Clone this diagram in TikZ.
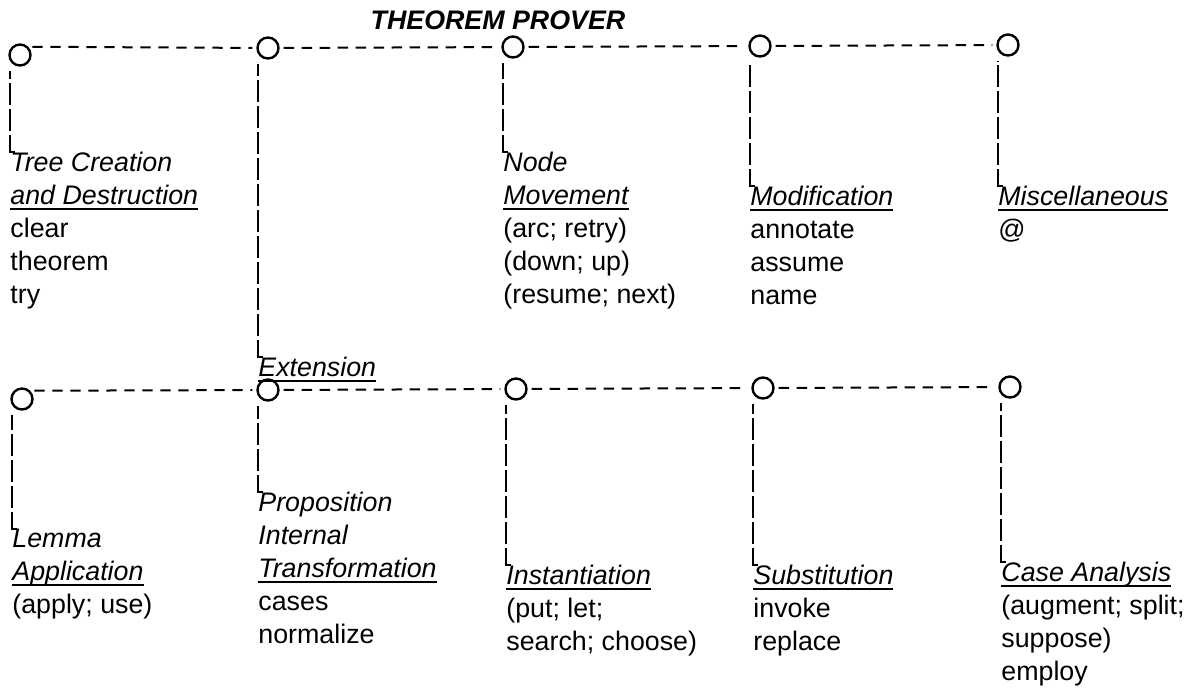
\documentclass[tikz,border=0pt]{standalone}
\usepackage{fontspec}
\setmainfont{Liberation Sans}
\newcommand{\uln}[1]{\setbox0\hbox{#1}\rlap{\rule[-2.5pt]{\wd0}{0.9pt}}\box0}
\tikzset{
  knot/.style={circle,draw,line width=1.2pt,minimum size=10.5pt,inner sep=0pt},
  hlink/.style={line width=1pt,dash pattern=on 5.2pt off 3.8pt,shorten <=2pt,shorten >=2pt},
  vlink/.style={line width=1pt,dash pattern=on 11pt off 2pt,shorten >=2pt},
  topic/.style={anchor=north west,inner sep=0pt,align=left,font=\fontsize{13.4}{16.5}\selectfont}
}

\begin{document}
\begin{tikzpicture}[x=0.5pt,y=-0.5pt]
\useasboundingbox (0,0) rectangle (1198,693);
\node (title) at (498,20) {\fontsize{13.4}{16}\selectfont\bfseries\itshape THEOREM PROVER};
% upper row
\node (t1) [knot] at (20,55) {};
\node (t2) [knot] at (268,48) {};
\node (t3) [knot] at (513,47) {};
\node (t4) [knot] at (760,46) {};
\node (t5) [knot] at (1008,45) {};
\draw [hlink] (t1.north east) -- (t2);
\draw [hlink] (t2) -- (t3);
\draw [hlink] (t3) -- (t4);
\draw [hlink] (t4) -- (t5);
\node (lt1) [topic] at (10,152) {\textit{Tree Creation}\\\uln{\textit{and Destruction}}\\clear\\theorem\\try};
\node (lt2) [topic] at (258,357) {\uln{\textit{Extension}}};
\node (lt3) [topic] at (503,152) {\textit{Node}\\\uln{\textit{Movement}}\\(arc; retry)\\(down; up)\\(resume; next)};
\node (lt4) [topic] at (750,186) {\uln{\textit{Modification}}\\annotate\\assume\\name};
\node (lt5) [topic] at (998,186) {\uln{\textit{Miscellaneous}}\\@};
\draw [vlink] ([xshift=2.5pt]lt1.north west) -- (lt1.north west) -- (lt1.north west |- t1.south);
\draw [vlink] ([xshift=2.5pt]lt2.north west) -- (lt2.north west) -- (lt2.north west |- t2.south);
\draw [vlink] ([xshift=2.5pt]lt3.north west) -- (lt3.north west) -- (lt3.north west |- t3.south);
\draw [vlink] ([xshift=2.5pt]lt4.north west) -- (lt4.north west) -- (lt4.north west |- t4.south);
\draw [vlink] ([xshift=2.5pt]lt5.north west) -- (lt5.north west) -- (lt5.north west |- t5.south);
% lower row
\node (b1) [knot] at (22,399) {};
\node (b2) [knot] at (268,390) {};
\node (b3) [knot] at (516,389) {};
\node (b4) [knot] at (763,388) {};
\node (b5) [knot] at (1010,387) {};
\draw [hlink] (b1.north east) -- (b2);
\draw [hlink] (b2) -- (b3);
\draw [hlink] (b3) -- (b4);
\draw [hlink] (b4) -- (b5);
\node (lb1) [topic] at (12,529) {\textit{Lemma}\\\uln{\textit{Application}}\\(apply; use)};
\node (lb2) [topic] at (258,492) {\textit{Proposition}\\\textit{Internal}\\\uln{\textit{Transformation}}\\cases\\normalize};
\node (lb3) [topic] at (506,565) {\uln{\textit{Instantiation}}\\(put; let;\\search; choose)};
\node (lb4) [topic] at (753,565) {\uln{\textit{Substitution}}\\invoke\\replace};
\node (lb5) [topic] at (1001,562) {\uln{\textit{Case Analysis}}\\(augment; split;\\suppose)\\employ};
\draw [vlink] ([xshift=2.5pt]lb1.north west) -- (lb1.north west) -- (lb1.north west |- b1.south);
\draw [vlink] ([xshift=2.5pt]lb2.north west) -- (lb2.north west) -- (lb2.north west |- b2.south);
\draw [vlink] ([xshift=2.5pt]lb3.north west) -- (lb3.north west) -- (lb3.north west |- b3.south);
\draw [vlink] ([xshift=2.5pt]lb4.north west) -- (lb4.north west) -- (lb4.north west |- b4.south);
\draw [vlink] ([xshift=2.5pt]lb5.north west) -- (lb5.north west) -- (lb5.north west |- b5.south);
\end{tikzpicture}
\end{document}
